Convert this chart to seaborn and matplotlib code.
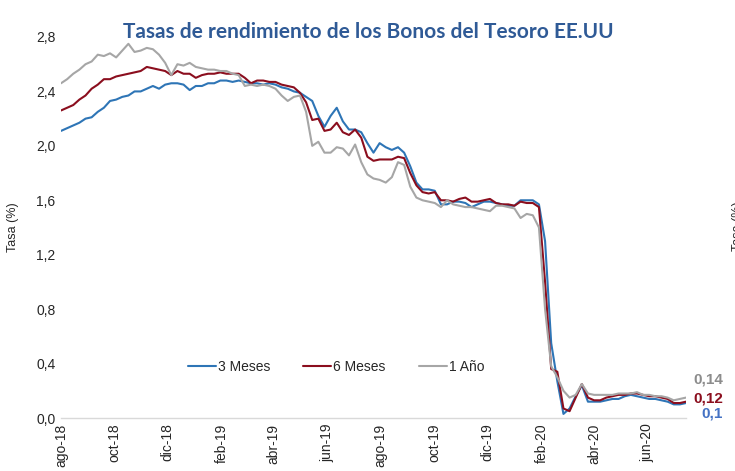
import pandas as pd
import numpy as np
import matplotlib
matplotlib.use('Agg')
import matplotlib.pyplot as plt
import matplotlib.dates as mdates
import seaborn as sns

# Weekly readings of the chart, Aug 2018 - Jul 2020
fechas = pd.date_range('2018-08-01', periods=103, freq='7D')

tasa_3m = [2.11, 2.13, 2.15, 2.17, 2.20, 2.21, 2.25, 2.28, 2.33, 2.34,
           2.36, 2.37, 2.40, 2.40, 2.42, 2.44, 2.42, 2.45, 2.46, 2.46,
           2.45, 2.41, 2.44, 2.44, 2.46, 2.46, 2.48, 2.48, 2.47, 2.48,
           2.47, 2.46, 2.46, 2.45, 2.46, 2.45, 2.43, 2.42, 2.40, 2.39,
           2.36, 2.33, 2.22, 2.14, 2.22, 2.28, 2.18, 2.12, 2.12, 2.10,
           2.02, 1.95, 2.02, 1.99, 1.97, 1.99, 1.95, 1.85, 1.73, 1.68,
           1.68, 1.67, 1.57, 1.57, 1.59, 1.59, 1.58, 1.55, 1.57, 1.59,
           1.59, 1.58, 1.57, 1.56, 1.56, 1.60, 1.60, 1.60, 1.57, 1.30,
           0.55, 0.27, 0.03, 0.07, 0.16, 0.24, 0.12, 0.12, 0.12, 0.13,
           0.14, 0.14, 0.16, 0.17, 0.16, 0.15, 0.14, 0.14, 0.13, 0.12,
           0.10, 0.10, 0.11]

tasa_6m = [2.26, 2.28, 2.30, 2.34, 2.37, 2.42, 2.45, 2.49, 2.49, 2.51,
           2.52, 2.53, 2.54, 2.55, 2.58, 2.57, 2.56, 2.55, 2.52, 2.55,
           2.53, 2.53, 2.50, 2.52, 2.53, 2.53, 2.54, 2.53, 2.53, 2.53,
           2.50, 2.46, 2.48, 2.48, 2.47, 2.47, 2.45, 2.44, 2.43, 2.39,
           2.32, 2.19, 2.20, 2.11, 2.12, 2.17, 2.10, 2.08, 2.12, 2.06,
           1.92, 1.89, 1.90, 1.90, 1.90, 1.92, 1.91, 1.80, 1.71, 1.66,
           1.65, 1.66, 1.60, 1.60, 1.59, 1.61, 1.62, 1.59, 1.59, 1.60,
           1.61, 1.58, 1.57, 1.57, 1.56, 1.59, 1.58, 1.58, 1.55, 1.00,
           0.36, 0.34, 0.07, 0.05, 0.15, 0.25, 0.15, 0.13, 0.13, 0.15,
           0.16, 0.17, 0.17, 0.18, 0.18, 0.17, 0.16, 0.16, 0.15, 0.14,
           0.11, 0.11, 0.12]

tasa_1a = [2.46, 2.49, 2.53, 2.56, 2.60, 2.62, 2.67, 2.66, 2.68, 2.65,
           2.70, 2.75, 2.69, 2.70, 2.72, 2.71, 2.67, 2.61, 2.52, 2.60,
           2.59, 2.61, 2.58, 2.57, 2.56, 2.56, 2.55, 2.55, 2.53, 2.52,
           2.44, 2.45, 2.44, 2.45, 2.44, 2.42, 2.37, 2.33, 2.36, 2.37,
           2.25, 2.00, 2.03, 1.95, 1.95, 1.99, 1.98, 1.93, 2.01, 1.88,
           1.79, 1.76, 1.75, 1.73, 1.77, 1.88, 1.86, 1.70, 1.62, 1.60,
           1.59, 1.58, 1.55, 1.60, 1.57, 1.56, 1.55, 1.55, 1.54, 1.53,
           1.52, 1.56, 1.56, 1.55, 1.54, 1.47, 1.50, 1.49, 1.40, 0.80,
           0.38, 0.30, 0.20, 0.15, 0.17, 0.25, 0.18, 0.17, 0.17, 0.17,
           0.17, 0.18, 0.18, 0.18, 0.19, 0.17, 0.17, 0.16, 0.16, 0.15,
           0.13, 0.14, 0.15]

series = ['3 Meses', '6 Meses', '1 Año']
colores = ['#2E75B6', '#8B0E1E', '#A6A6A6']
ultimos = ['0,1', '0,12', '0,14']
colores_ult = ['#4472C4', '#8B0E1E', '#8C8C8C']

df = pd.DataFrame({'Fecha': fechas, '3 Meses': tasa_3m,
                   '6 Meses': tasa_6m, '1 Año': tasa_1a})
largo = df.melt(id_vars='Fecha', var_name='Plazo', value_name='Tasa')

sns.set_style('white')
plt.rcParams['font.family'] = ['Liberation Sans', 'DejaVu Sans']

fig = plt.figure(figsize=(7.35, 4.71), dpi=100)
ax = fig.add_axes([61 / 735, 1 - 418 / 471, 625 / 735, 381 / 471])

sns.lineplot(data=largo, x='Fecha', y='Tasa', hue='Plazo', hue_order=series,
             palette=colores, linewidth=1.5, ax=ax)

ax.set_ylim(0, 2.8)
ax.set_xlim(fechas[0], fechas[-1])
ax.set_yticks(np.arange(0, 2.81, 0.4))
ax.set_yticklabels([f'{v:.1f}'.replace('.', ',') for v in np.arange(0, 2.81, 0.4)],
                   fontsize=10)

meses = ['ene', 'feb', 'mar', 'abr', 'may', 'jun', 'jul', 'ago', 'sep', 'oct', 'nov', 'dic']
ax.xaxis.set_major_locator(mdates.MonthLocator(bymonth=[2, 4, 6, 8, 10, 12]))
ax.xaxis.set_major_formatter(plt.FuncFormatter(
    lambda x, pos: f"{meses[mdates.num2date(x).month - 1]}-{mdates.num2date(x).strftime('%y')}"))
plt.setp(ax.get_xticklabels(), rotation=90, fontsize=10)
ax.tick_params(axis='both', length=0, pad=4)

for s in ['top', 'right', 'left']:
    ax.spines[s].set_visible(False)
ax.spines['bottom'].set_color('#D9D9D9')
ax.spines['bottom'].set_linewidth(1)

ax.set_xlabel('')
ax.set_ylabel('Tasa (%)', fontsize=9, labelpad=12)

ax.legend(loc='center', bbox_to_anchor=(0.44, 0.134), ncol=3, frameon=False,
          fontsize=10, handlelength=2.0, handletextpad=0.15, columnspacing=2.4)

# Last values at the right end
ult_y = [0.03, 0.14, 0.28]
for txt, yv, c in zip(ultimos, ult_y, colores_ult):
    ax.text(fechas[-1] + pd.Timedelta(days=42), yv, txt, ha='right', va='center',
            fontsize=11, fontweight='bold', color=c, clip_on=False)

fig.suptitle('Tasas de rendimiento de los Bonos del Tesoro EE.UU', x=368 / 735, y=1 - 32 / 471,
             va='center', fontsize=15, fontweight='bold', color='#2F5A96', family='Lato')

fig.text(738 / 735, 245 / 471, 'Tasa (%)', rotation=90, ha='center', va='center', fontsize=9)

fig.savefig('out.png', dpi=100)
